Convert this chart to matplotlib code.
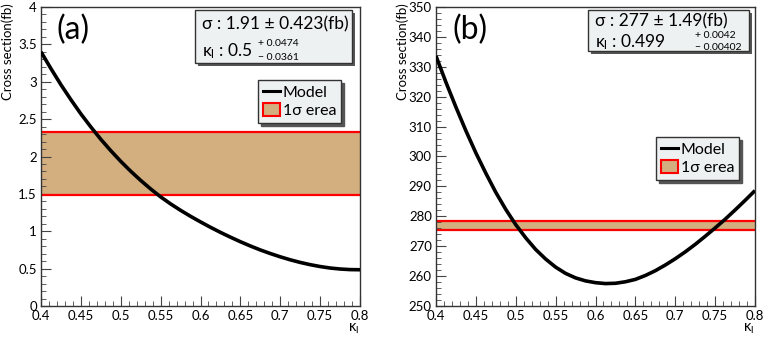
import matplotlib
matplotlib.use("Agg")
import matplotlib.pyplot as plt
from matplotlib.lines import Line2D
from matplotlib.patches import Patch, Rectangle
from matplotlib.ticker import MultipleLocator

plt.rcParams["font.family"] = ["Lato", "DejaVu Sans"]
plt.rcParams["mathtext.fontset"] = "custom"
plt.rcParams["mathtext.rm"] = "Lato"
plt.rcParams["mathtext.it"] = "Lato"

# data (kappa_l grid, cross sections in fb)
kappa = [0.4000, 0.4125, 0.4250, 0.4375, 0.4500, 0.4625, 0.4750, 0.4875,
         0.5000, 0.5125, 0.5250, 0.5375, 0.5500, 0.5625, 0.5750, 0.5875,
         0.6000, 0.6125, 0.6250, 0.6375, 0.6500, 0.6625, 0.6750, 0.6875,
         0.7000, 0.7125, 0.7250, 0.7375, 0.7500, 0.7625, 0.7750, 0.7875,
         0.8000]
xsec_a = [3.400, 3.175, 2.960, 2.760, 2.570, 2.395, 2.230, 2.078,
          1.935, 1.803, 1.680, 1.566, 1.460, 1.366, 1.280, 1.200,
          1.125, 1.053, 0.985, 0.921, 0.860, 0.803, 0.750, 0.702,
          0.658, 0.618, 0.583, 0.553, 0.528, 0.508, 0.495, 0.487,
          0.485]
xsec_b = [333.6, 324.8, 316.5, 308.6, 301.2, 294.4, 288.0, 282.3,
          277.2, 272.8, 268.9, 265.7, 263.0, 260.9, 259.4, 258.4,
          257.8, 257.5, 257.6, 258.1, 258.9, 260.2, 261.8, 263.7,
          265.8, 268.1, 270.6, 273.3, 276.1, 279.0, 282.1, 285.3,
          288.6]

sigma_a, sigma_err_a = 1.91, 0.423
sigma_b, sigma_err_b = 277, 1.49
kappa_fit_a, kappa_up_a, kappa_dn_a = "0.5", "0.0474", "0.0361"
kappa_fit_b, kappa_up_b, kappa_dn_b = "0.499", "0.0042", "0.00402"

W, H = 763, 341
TAN = "#d3ae7e"
BOXFC = "#eef1f1"
FRAME = "#333333"


def fx(x):
    return x / W


def fy(y):
    return 1 - y / H


fig = plt.figure(figsize=(W / 100, H / 100), dpi=100)


def panel(left, kap, xs, sig, err, ylim, ymaj, ymin, tag, box, lines, legpos):
    ax = fig.add_axes([fx(left), fy(306), fx(319), 299 / H])
    ax.axhspan(sig - err, sig + err, color=TAN, lw=0, zorder=1)
    ax.axhline(sig - err, color="red", lw=1.6, zorder=2)
    ax.axhline(sig + err, color="red", lw=1.6, zorder=2)
    ax.plot(kap, xs, color="black", lw=2.6, zorder=3, solid_capstyle="butt")
    ax.set_xlim(0.4, 0.8)
    ax.set_ylim(*ylim)
    ax.xaxis.set_major_locator(MultipleLocator(0.05))
    ax.xaxis.set_minor_locator(MultipleLocator(0.01))
    ax.yaxis.set_major_locator(MultipleLocator(ymaj))
    ax.yaxis.set_minor_locator(MultipleLocator(ymin))
    ax.xaxis.set_major_formatter(plt.FuncFormatter(lambda v, p: f"{v:g}"))
    ax.yaxis.set_major_formatter(plt.FuncFormatter(lambda v, p: f"{v:g}"))
    ax.tick_params(which="both", direction="in", top=False, right=False,
                   color="#444444", labelsize=9.5, pad=3)
    ax.tick_params(which="major", length=7)
    ax.tick_params(which="minor", length=3.6)
    for s in ax.spines.values():
        s.set_color(FRAME)
        s.set_linewidth(1.0)

    # axis titles
    fig.text(fx(left - 33), fy(3), "Cross section(fb)", rotation=90,
             ha="center", va="top", fontsize=9.5)
    fig.text(fx(left + 318), fy(329), r"$\mathrm{\kappa_l}$",
             ha="right", va="center", fontsize=10.5)
    fig.text(fx(left + 16), fy(30), tag, ha="left", va="center", fontsize=23)

    # fit result box with shadow
    x0, y0, x1, y1 = box
    fig.patches.append(Rectangle((fx(x0 + 3), fy(y1 + 3)), fx(x1 - x0), (y1 - y0) / H,
                                 transform=fig.transFigure, facecolor="#555555",
                                 edgecolor="none", zorder=5))
    fig.patches.append(Rectangle((fx(x0), fy(y1)), fx(x1 - x0), (y1 - y0) / H,
                                 transform=fig.transFigure, facecolor=BOXFC,
                                 edgecolor=FRAME, lw=1.0, zorder=6))
    t1, t2, up, dn, yl1, yl2, xsup = lines
    fig.text(fx(x0 + 7), fy(yl1), t1, ha="left", va="center", fontsize=12.5, zorder=7)
    fig.text(fx(x0 + 7), fy(yl2), t2, ha="left", va="center", fontsize=12.5, zorder=7)
    fig.text(fx(xsup), fy(yl2 - 7), "+ " + up, ha="left", va="center", fontsize=7.5, zorder=7)
    fig.text(fx(xsup), fy(yl2 + 6), "\u2212 " + dn, ha="left", va="center", fontsize=7.5, zorder=7)

    handles = [Line2D([], [], color="black", lw=2.2),
               Patch(facecolor=TAN, edgecolor="red", lw=1.5)]
    leg = ax.legend(handles, ["Model", "1\u03c3 erea"], loc="upper left",
                    bbox_to_anchor=(fx(legpos[0]), fy(legpos[1])),
                    bbox_transform=fig.transFigure, borderaxespad=0,
                    fontsize=11.5, fancybox=False, framealpha=1,
                    facecolor=BOXFC, edgecolor=FRAME, handlelength=1.1,
                    handleheight=0.9, handletextpad=0.15, borderpad=0.3,
                    labelspacing=0.2,
                    shadow={"color": "#555555", "alpha": 1, "ox": 2, "oy": -2})
    leg.get_frame().set_linewidth(1.0)
    return ax


panel(41, kappa, xsec_a, sigma_a, sigma_err_a, (0, 4), 0.5, 0.1, "(a)",
      (195, 10, 352, 63),
      (f"\u03c3 : {sigma_a} \u00b1 {sigma_err_a}(fb)",
       r"$\mathrm{\kappa_l}$ : " + kappa_fit_a, kappa_up_a, kappa_dn_a, 24, 51, 258),
      (258, 80))
panel(436, kappa, xsec_b, sigma_b, sigma_err_b, (250, 350), 10, 2, "(b)",
      (588, 10, 749, 51),
      (f"\u03c3 : {sigma_b} \u00b1 {sigma_err_b}(fb)",
       r"$\mathrm{\kappa_l}$ : " + kappa_fit_b, kappa_up_b, kappa_dn_b, 21, 42, 695),
      (656, 137))

fig.savefig("out.png", dpi=100)
